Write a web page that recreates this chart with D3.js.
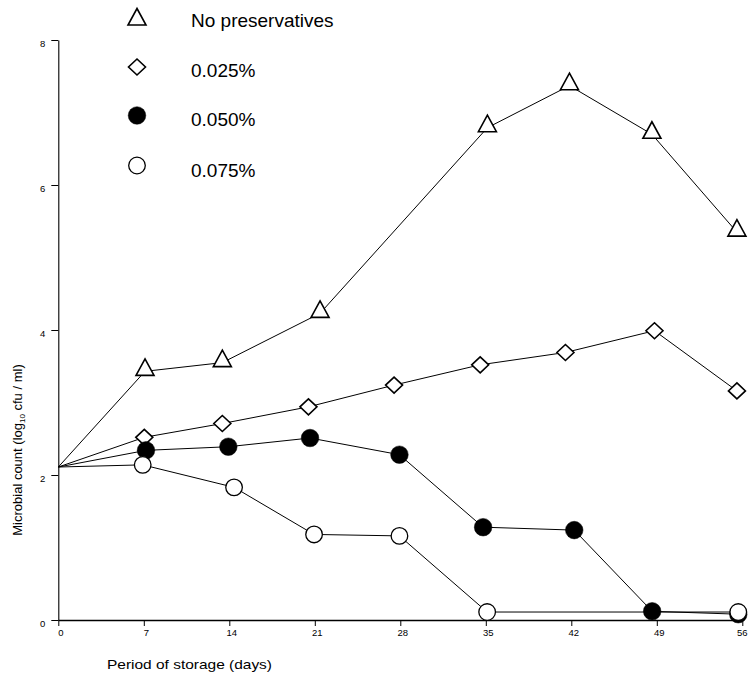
<!DOCTYPE html>
<html>
<head>
<meta charset="utf-8">
<script src="https://cdn.jsdelivr.net/npm/d3@7"></script>
<style>
  html, body { margin: 0; padding: 0; background: #fff; }
  svg { display: block; font-family: "Liberation Sans", Arial, sans-serif; }
</style>
</head>
<body>
<svg id="chart" width="748" height="681"></svg>
<script>
// Storage days shown on the x axis and count ticks on the y axis
const dayTicks = [0, 7, 14, 21, 28, 35, 42, 49, 56];
const countTicks = [0, 2, 4, 6, 8];

// Sampling day and log10 count per treatment (day-0 count shared by all)
const noPresDays   = [0, 7.1, 13.43, 21.43, 35.13, 41.85, 48.6, 55.56];
const noPresCounts = [2.11, 3.43, 3.55, 4.23, 6.79, 7.37, 6.7, 5.35];

const p025Days   = [0, 7.04, 13.43, 20.48, 27.49, 34.54, 41.52, 48.81, 55.56];
const p025Counts = [2.11, 2.52, 2.71, 2.94, 3.24, 3.52, 3.69, 3.99, 3.16];

const p050Days   = [0, 7.18, 13.92, 20.61, 27.93, 34.78, 42.24, 48.62, 55.67];
const p050Counts = [2.11, 2.34, 2.39, 2.51, 2.28, 1.28, 1.24, 0.12, 0.08];

const p075Days   = [0, 6.91, 14.39, 20.94, 27.93, 35.11, 55.67];
const p075Counts = [2.11, 2.14, 1.83, 1.18, 1.16, 0.11, 0.11];

const legendLabels = ["No preservatives", "0.025%", "0.050%", "0.075%"];

const svg = d3.select("#chart");
const x = d3.scaleLinear().domain([0, 56]).range([58.3, 742.3]);
const y = d3.scaleLinear().domain([0, 8]).range([620, 40]);

// marker shapes
const triPath = "M0,-12.5L9,4L-9,4Z";
const diaPath = "M0,-8L8.5,0L0,8L-8.5,0Z";

const series = [
  { days: noPresDays, counts: noPresCounts, kind: "tri" },
  { days: p025Days,   counts: p025Counts,   kind: "dia" },
  { days: p050Days,   counts: p050Counts,   kind: "filled" },
  { days: p075Days,   counts: p075Counts,   kind: "open" }
];

// axes
const xAxis = d3.axisBottom(x).tickValues(dayTicks).tickSize(6).tickSizeOuter(0).tickPadding(3);
const yAxis = d3.axisLeft(y).tickValues(countTicks).tickSize(7).tickSizeOuter(0).tickPadding(6);

const gx = svg.append("g").attr("transform", "translate(0,620)").call(xAxis);
gx.select(".domain").attr("stroke", "#000").attr("stroke-width", 1.4);
gx.selectAll(".tick line").attr("stroke", "#000");
gx.selectAll(".tick text").attr("font-size", 9.5).attr("fill", "#000")
  .attr("font-family", "'Liberation Sans', Arial, sans-serif")
  .attr("dx", d => d === 56 ? -0.5 : 2);

const gy = svg.append("g").attr("transform", "translate(58.3,0)").call(yAxis);
gy.select(".domain").attr("stroke", "#000").attr("stroke-width", 1.1);
gy.selectAll(".tick line").attr("stroke", "#000");
gy.selectAll(".tick text").attr("font-size", 9.5).attr("fill", "#000")
  .attr("font-family", "'Liberation Sans', Arial, sans-serif").attr("dy", "0.65em");

// connecting lines
const line = d3.line().x(d => x(d[0])).y(d => y(d[1]));
series.forEach(s => {
  const pts = s.days.map((d, i) => [d, s.counts[i]]);
  svg.append("path").attr("d", line(pts))
    .attr("fill", "none").attr("stroke", "#000").attr("stroke-width", 1);
});

// markers (the day-0 starting point carries no marker)
function drawMarker(g, kind, cx, cy) {
  if (kind === "tri") {
    g.append("path").attr("d", triPath).attr("transform", `translate(${cx},${cy})`)
      .attr("fill", "#fff").attr("stroke", "#000").attr("stroke-width", 1.6);
  } else if (kind === "dia") {
    g.append("path").attr("d", diaPath).attr("transform", `translate(${cx},${cy})`)
      .attr("fill", "#fff").attr("stroke", "#000").attr("stroke-width", 1.6);
  } else if (kind === "filled") {
    g.append("circle").attr("cx", cx).attr("cy", cy).attr("r", 8.8)
      .attr("fill", "#000").attr("stroke", "#000").attr("stroke-width", 0.5);
  } else {
    g.append("circle").attr("cx", cx).attr("cy", cy).attr("r", 8.3)
      .attr("fill", "#fff").attr("stroke", "#000").attr("stroke-width", 1.3);
  }
}
const gm = svg.append("g");
series.forEach(s => {
  s.days.forEach((d, i) => {
    if (i === 0) return;
    drawMarker(gm, s.kind, x(d), y(s.counts[i]));
  });
});

// legend
const legendSym = [[137, 21], [137, 67], [137, 115.5], [137, 165.5]];
const legendBase = [27, 77, 126, 176.5];
series.forEach((s, i) => {
  drawMarker(svg, s.kind, legendSym[i][0], legendSym[i][1]);
  svg.append("text").attr("x", 191).attr("y", legendBase[i])
    .attr("font-size", 19).attr("fill", "#000").text(legendLabels[i]);
});

// axis titles
svg.append("text").attr("x", 107).attr("y", 669).attr("font-size", 13).attr("fill", "#000")
  .attr("textLength", 165).attr("lengthAdjust", "spacingAndGlyphs")
  .text("Period of storage  (days)");

const yt = svg.append("text").attr("transform", "translate(22,450) rotate(-90)")
  .attr("text-anchor", "middle").attr("font-size", 13).attr("fill", "#000");
yt.append("tspan").text("Microbial count  (log");
yt.append("tspan").attr("font-size", 8).attr("dy", 3).text("10");
yt.append("tspan").attr("dy", -3).text(" cfu / ml)");
</script>
</body>
</html>
